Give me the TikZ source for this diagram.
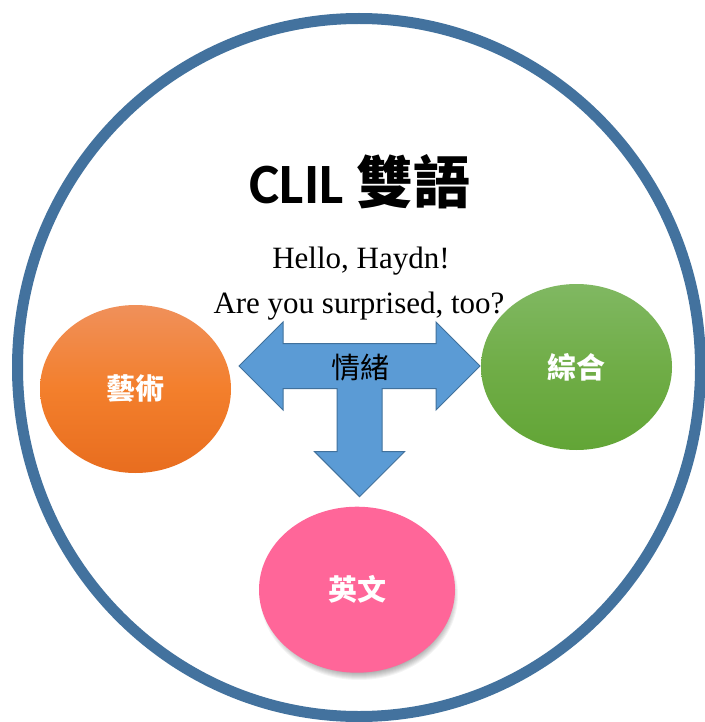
\documentclass[tikz,border=0pt]{standalone}
\usepackage{fontspec}
\setmainfont{Liberation Serif}
\newfontfamily\cjk{Noto Sans CJK TC}
\newfontfamily\calibri{Carlito}
\usetikzlibrary{shapes.geometric}
\definecolor{ringblue}{HTML}{43729E}
\definecolor{arrowfill}{HTML}{5B9BD5}
\definecolor{arrowline}{HTML}{41719C}
\definecolor{orangetop}{HTML}{F0905A}
\definecolor{orangemid}{HTML}{F37F2C}
\definecolor{orangebot}{HTML}{E86D1F}
\definecolor{greentop}{HTML}{80B862}
\definecolor{greenmid}{HTML}{70AD47}
\definecolor{greenbot}{HTML}{62A536}
\definecolor{pinkfill}{HTML}{FF6699}
\tikzset{
  blob/.style={ellipse, inner sep=0pt, text=white,
    font=\cjk\bfseries\fontsize{29}{32}\selectfont},
  orangeblob/.style={blob, top color=orangetop, bottom color=orangebot, middle color=orangemid},
  greenblob/.style={blob, top color=greentop, bottom color=greenbot, middle color=greenmid},
  pinkblob/.style={blob, fill=pinkfill},
  tarrow/.style={fill=arrowfill, draw=arrowline, line width=1pt, line join=miter},
}
\begin{document}
\begin{tikzpicture}[x=1pt, y=-1pt]
\useasboundingbox (0,0) rectangle (704,722);
\fill[white] (0,0) rectangle (704,722);
% outer ring
\draw[ringblue, line width=11pt] (359,367.5) ellipse [x radius=341.5, y radius=349];
% texts
\node[anchor=base, inner sep=0pt] (title) at (360,203.3)
  {\fontsize{57}{60}\selectfont\calibri\bfseries CLIL {\cjk\bfseries 雙語}};
\node[anchor=base, inner sep=0pt, font=\fontsize{31}{34}\selectfont] (hello) at (361,268.3) {Hello, Haydn!};
\node[anchor=base, inner sep=0pt, font=\fontsize{31}{34}\selectfont] (ask) at (359,313.3) {Are you surprised, too?};
% T-shaped three-way arrow
\draw[tarrow] (239,366) -- (283,322) -- (283,343.5) -- (436,343.5) -- (436,322)
  -- (480,366) -- (436,410) -- (436,388.5) -- (382,388.5) -- (382,451.7)
  -- (404.5,451.7) -- (359.5,496.7) -- (314.5,451.7) -- (337,451.7)
  -- (337,388.5) -- (283,388.5) -- (283,410) -- cycle;
\node[font=\cjk\fontsize{29}{32}\selectfont, inner sep=0pt] (mood) at (360,368) {情緒};
% shadow of the pink ellipse
\foreach \i in {0,1,...,7}
  \fill[black, opacity=0.045] (359,595) ellipse [x radius=92+\i, y radius=78+\i];
% ellipses
\node[orangeblob, minimum width=191pt, minimum height=168pt] (art) at (135.5,389) {藝術};
\node[greenblob, minimum width=191pt, minimum height=166pt] (integ) at (576.5,367) {綜合};
\node[pinkblob, minimum width=196pt, minimum height=166pt] (eng) at (357,589.7) {英文};
\end{tikzpicture}
\end{document}
